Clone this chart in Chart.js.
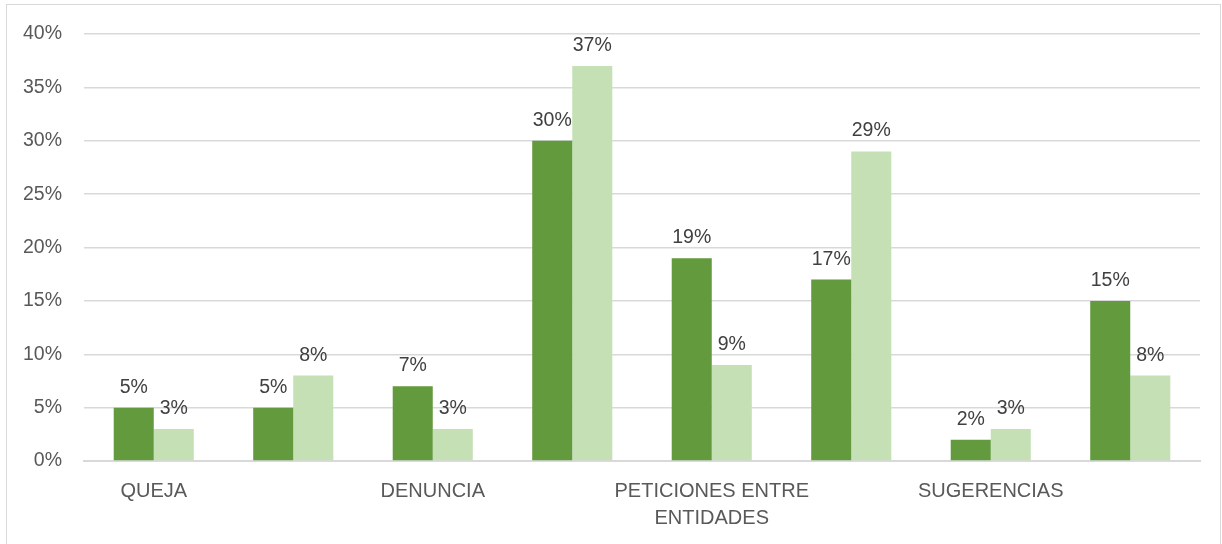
<!DOCTYPE html>
<html>
<head>
<meta charset="utf-8">
<script src="https://cdn.jsdelivr.net/npm/chart.js@4"></script>
<style>
  html, body { margin: 0; padding: 0; background: #fff; }
  #wrap { position: relative; width: 1222px; height: 544px; overflow: hidden; }
  #frame { position: absolute; left: 6px; top: 4px; width: 1213px; height: 600px; border: 1px solid #d9d9d9; }
  #chart { position: absolute; left: 0; top: 0; }
</style>
</head>
<body>
<div id="wrap">
  <div id="frame"></div>
  <canvas id="chart" width="1222" height="544"></canvas>
</div>
<script>
// categories (only every other label is shown in the original)
const categories = ["QUEJA", "", "DENUNCIA", "", ["PETICIONES ENTRE", "ENTIDADES"], "", "SUGERENCIAS", ""];
const seriesDark = [5, 5, 7, 30, 19, 17, 2, 15];
const seriesLight = [3, 8, 3, 37, 9, 29, 3, 8];
const yTicks = [0, 5, 10, 15, 20, 25, 30, 35, 40];

const FONT = "'Liberation Sans Narrow', 'Liberation Sans', Arial, sans-serif";

// draws the value above each bar
const valueLabels = {
  id: "valueLabels",
  afterDatasetsDraw(chart) {
    const ctx = chart.ctx;
    ctx.save();
    ctx.font = "19.5px " + FONT;
    ctx.fillStyle = "#404040";
    ctx.textAlign = "center";
    ctx.textBaseline = "alphabetic";
    chart.data.datasets.forEach((ds, i) => {
      chart.getDatasetMeta(i).data.forEach((bar, j) => {
        ctx.fillText(ds.data[j] + "%", bar.x, bar.y - 15);
      });
    });
    ctx.restore();
  },
};

var ctx = document.getElementById("chart").getContext("2d");
var chart = new Chart(ctx, {
  type: "bar",
  data: {
    labels: categories,
    datasets: [
      {
        data: seriesDark,
        backgroundColor: "#629a3d",
        categoryPercentage: 0.574,
        barPercentage: 1,
      },
      {
        data: seriesLight,
        backgroundColor: "#c5e0b4",
        categoryPercentage: 0.574,
        barPercentage: 1,
      },
    ],
  },
  options: {
    responsive: false,
    animation: false,
    layout: { padding: { top: 34, right: 22, bottom: 0, left: 0 } },
    plugins: {
      legend: { display: false },
      tooltip: { enabled: false },
    },
    scales: {
      x: {
        grid: { display: false, drawTicks: false },
        border: { display: true, color: "#d9d9d9", width: 2 },
        ticks: {
          autoSkip: false,
          maxRotation: 0,
          padding: 17,
          color: "#595959",
          font: { family: FONT, size: 20, lineHeight: 1.35 },
        },
        afterFit: (scale) => { scale.height = 83; },
      },
      y: {
        min: 0,
        max: 40,
        afterBuildTicks: (scale) => { scale.ticks = yTicks.map((v) => ({ value: v })); },
        grid: { color: "#d9d9d9", lineWidth: 1.5, drawTicks: false },
        border: { display: false },
        ticks: {
          padding: 22,
          color: "#595959",
          font: { family: FONT, size: 19.5 },
          callback: (v) => v + "%",
        },
        afterFit: (scale) => { scale.width = 84; },
      },
    },
  },
  plugins: [valueLabels],
});
</script>
</body>
</html>
